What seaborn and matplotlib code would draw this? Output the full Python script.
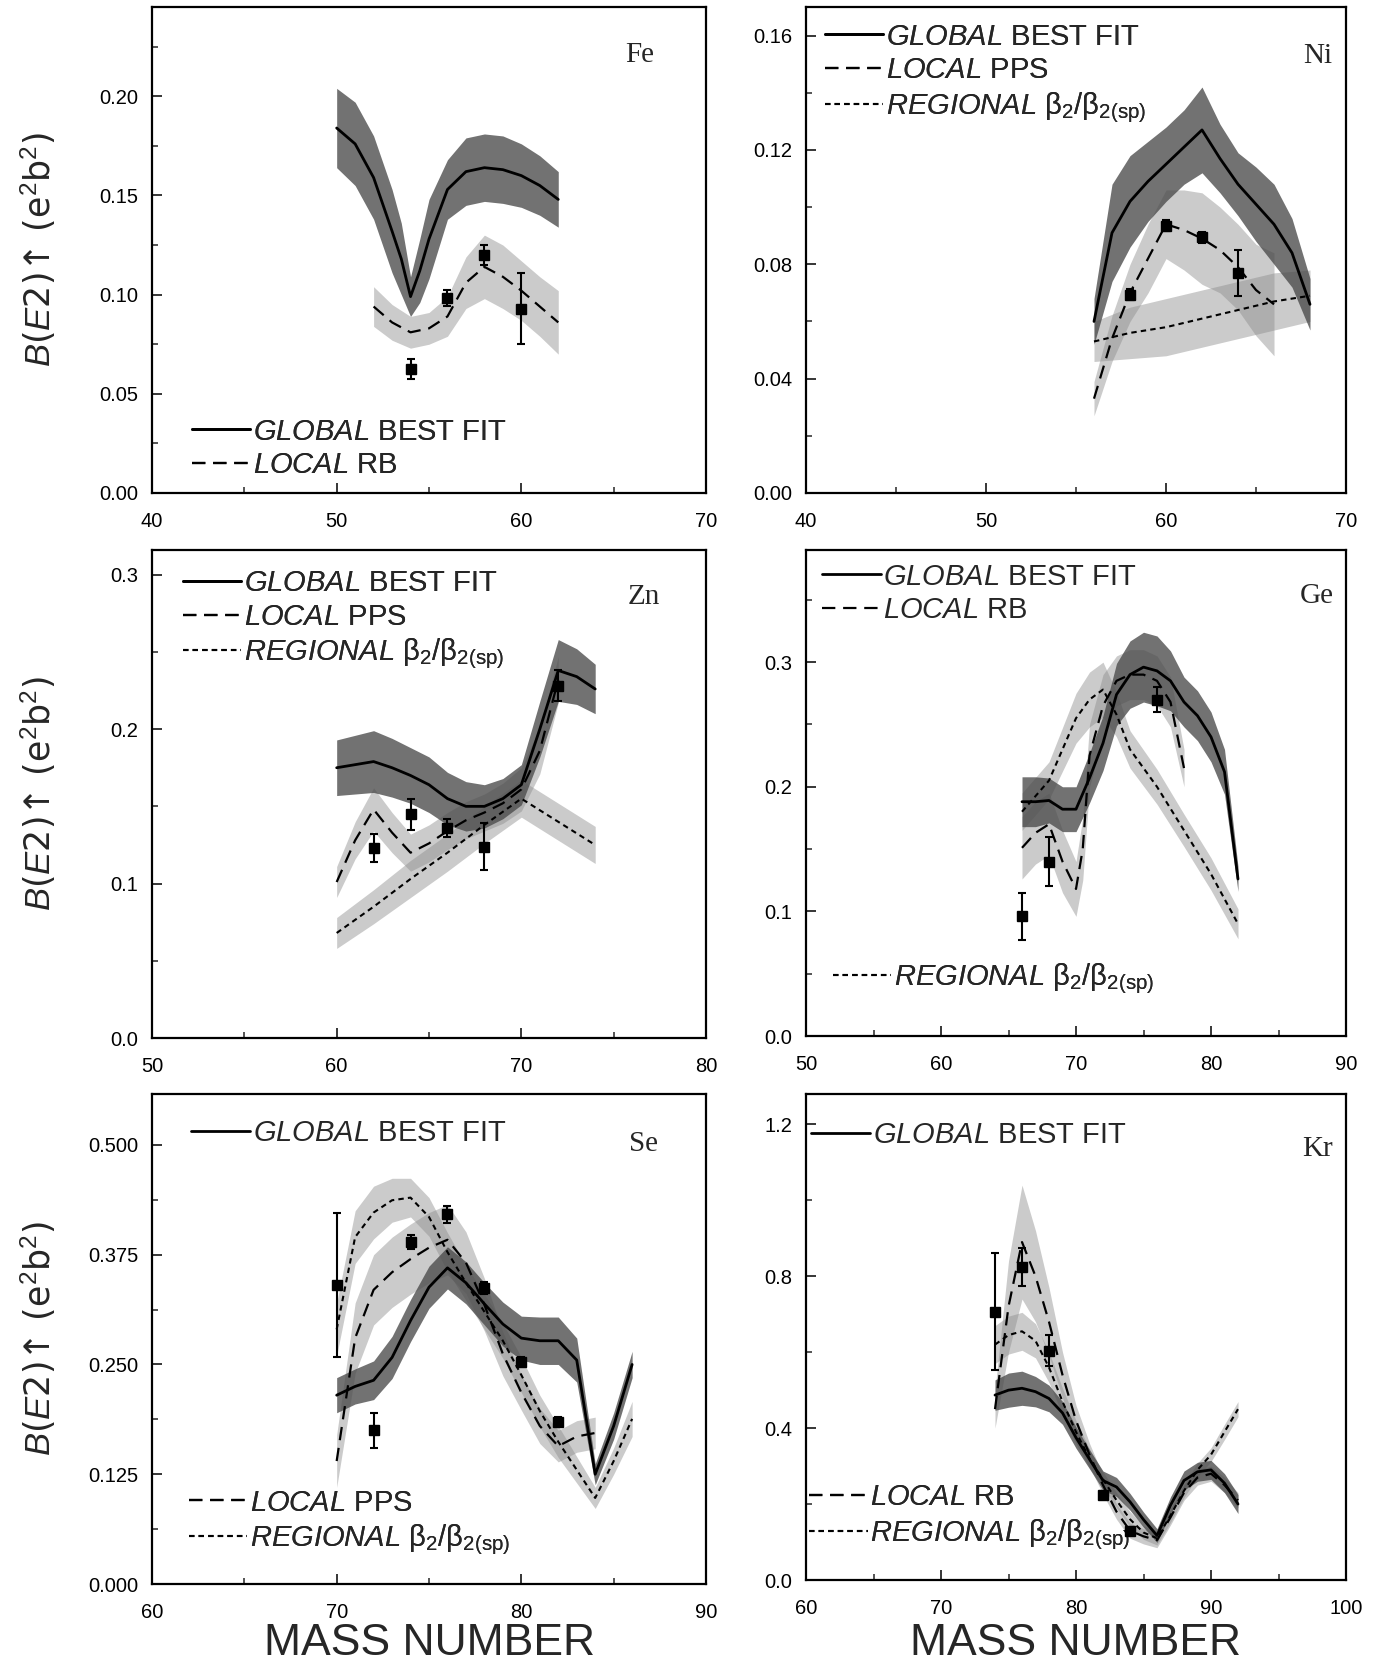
import numpy as np
import pandas as pd
import matplotlib
matplotlib.use("Agg")
import matplotlib.pyplot as plt
import seaborn as sns
from matplotlib.lines import Line2D
from matplotlib.ticker import MultipleLocator, FormatStrFormatter

sns.set_style("ticks")
plt.rcParams['font.family'] = ['Liberation Sans', 'DejaVu Sans']
plt.rcParams['mathtext.fontset'] = 'custom'
plt.rcParams['mathtext.rm'] = 'Liberation Sans'
plt.rcParams['mathtext.it'] = 'Liberation Sans:italic'
plt.rcParams['mathtext.bf'] = 'Liberation Sans:bold'
plt.rcParams['mathtext.sf'] = 'Liberation Sans'

# ---------------- Fe ----------------
fe_gx = [50, 51, 52, 53, 53.5, 54, 54.5, 55, 56, 57, 58, 59, 60, 61, 62]
fe_gy = [0.184, 0.176, 0.159, 0.132, 0.118, 0.099, 0.112, 0.128, 0.153, 0.162, 0.164, 0.163, 0.160, 0.155, 0.148]
fe_gw = [0.020, 0.021, 0.021, 0.021, 0.018, 0.010, 0.016, 0.020, 0.015, 0.017, 0.017, 0.017, 0.016, 0.015, 0.014]
fe_lx = [52, 53, 54, 55, 56, 57, 58, 59, 60, 61, 62]
fe_ly = [0.094, 0.086, 0.081, 0.083, 0.089, 0.106, 0.114, 0.109, 0.102, 0.094, 0.086]
fe_lw = [0.010, 0.009, 0.008, 0.008, 0.010, 0.013, 0.016, 0.016, 0.015, 0.015, 0.016]
fe_dx = [54, 56, 58, 60]
fe_dy = [0.0625, 0.0985, 0.120, 0.093]
fe_de = [0.005, 0.004, 0.005, 0.018]

# ---------------- Ni ----------------
ni_gx = [56, 57, 58, 59, 60, 61, 62, 63, 64, 65, 66, 67, 68]
ni_gy = [0.060, 0.091, 0.102, 0.109, 0.115, 0.121, 0.127, 0.117, 0.108, 0.101, 0.094, 0.084, 0.066]
ni_gw = [0.008, 0.017, 0.016, 0.014, 0.013, 0.013, 0.015, 0.012, 0.011, 0.013, 0.014, 0.012, 0.009]
ni_lx = [56, 57, 58, 59, 60, 61, 62, 63, 64, 65, 66]
ni_ly = [0.033, 0.054, 0.070, 0.082, 0.094, 0.092, 0.089, 0.085, 0.079, 0.071, 0.066]
ni_lw = [0.006, 0.008, 0.010, 0.012, 0.012, 0.014, 0.016, 0.015, 0.015, 0.016, 0.018]
ni_rx = [56, 58, 60, 62, 64, 66, 68]
ni_ry = [0.053, 0.056, 0.058, 0.061, 0.064, 0.067, 0.069]
ni_rw = [0.007, 0.009, 0.010, 0.010, 0.010, 0.010, 0.009]
ni_dx = [58, 60, 62, 64]
ni_dy = [0.0694, 0.0935, 0.0894, 0.077]
ni_de = [0.002, 0.002, 0.002, 0.008]

# ---------------- Zn ----------------
zn_gx = [60, 61, 62, 63, 64, 65, 66, 67, 68, 69, 70, 71, 72, 73, 74]
zn_gy = [0.175, 0.177, 0.179, 0.175, 0.170, 0.164, 0.155, 0.150, 0.150, 0.155, 0.164, 0.200, 0.238, 0.234, 0.226]
zn_gw = [0.018, 0.019, 0.020, 0.019, 0.018, 0.018, 0.017, 0.016, 0.014, 0.013, 0.013, 0.018, 0.020, 0.018, 0.016]
zn_lx = [60, 61, 62, 63, 64, 65, 66, 67, 68, 69, 70, 71, 72]
zn_ly = [0.101, 0.128, 0.148, 0.133, 0.120, 0.126, 0.134, 0.141, 0.146, 0.152, 0.161, 0.186, 0.232]
zn_lw = [0.010, 0.012, 0.014, 0.013, 0.012, 0.012, 0.012, 0.012, 0.012, 0.013, 0.014, 0.015, 0.015]
zn_rx = [60, 62, 64, 66, 68, 70, 72, 74]
zn_ry = [0.068, 0.085, 0.103, 0.120, 0.138, 0.155, 0.140, 0.125]
zn_rw = [0.010, 0.011, 0.012, 0.012, 0.012, 0.012, 0.012, 0.012]
zn_dx = [62, 64, 66, 68, 72]
zn_dy = [0.123, 0.145, 0.136, 0.124, 0.228]
zn_de = [0.009, 0.010, 0.006, 0.015, 0.010]

# ---------------- Ge ----------------
ge_gx = [66, 67, 68, 69, 70, 71, 72, 73, 74, 75, 76, 77, 78, 79, 80, 81, 82]
ge_gy = [0.188, 0.188, 0.189, 0.182, 0.182, 0.207, 0.235, 0.274, 0.290, 0.296, 0.293, 0.285, 0.268, 0.257, 0.240, 0.212, 0.126]
ge_gw = [0.020, 0.020, 0.018, 0.018, 0.018, 0.020, 0.022, 0.025, 0.027, 0.028, 0.028, 0.024, 0.020, 0.020, 0.020, 0.018, 0.010]
ge_lx = [66, 67, 68, 69, 70, 70.5, 71, 72, 73, 74, 75, 76, 77, 78]
ge_ly = [0.151, 0.163, 0.170, 0.140, 0.118, 0.150, 0.225, 0.265, 0.285, 0.290, 0.290, 0.285, 0.268, 0.215]
ge_lw = [0.025, 0.025, 0.025, 0.025, 0.022, 0.025, 0.025, 0.025, 0.020, 0.020, 0.020, 0.020, 0.020, 0.015]
ge_rx = [66, 68, 70, 71, 72, 73, 74, 76, 78, 80, 82]
ge_ry = [0.180, 0.205, 0.255, 0.270, 0.278, 0.258, 0.230, 0.200, 0.165, 0.130, 0.090]
ge_rw = [0.015, 0.015, 0.020, 0.022, 0.022, 0.018, 0.015, 0.014, 0.013, 0.013, 0.012]
ge_dx = [66, 68, 76]
ge_dy = [0.096, 0.140, 0.270]
ge_de = [0.019, 0.020, 0.010]

# ---------------- Se ----------------
se_gx = [70, 71, 72, 73, 74, 75, 76, 77, 78, 79, 80, 81, 82, 83, 84, 85, 86]
se_gy = [0.215, 0.225, 0.232, 0.258, 0.300, 0.338, 0.360, 0.343, 0.319, 0.296, 0.280, 0.277, 0.277, 0.255, 0.125, 0.180, 0.250]
se_gw = [0.020, 0.020, 0.022, 0.024, 0.024, 0.024, 0.024, 0.024, 0.024, 0.025, 0.025, 0.027, 0.027, 0.025, 0.012, 0.015, 0.015]
se_lx = [70, 71, 72, 73, 74, 75, 76, 77, 78, 79, 80, 81, 82, 83, 84]
se_ly = [0.140, 0.280, 0.335, 0.355, 0.370, 0.383, 0.392, 0.366, 0.318, 0.262, 0.218, 0.180, 0.157, 0.168, 0.172]
se_lw = [0.030, 0.040, 0.040, 0.040, 0.040, 0.040, 0.040, 0.035, 0.030, 0.025, 0.020, 0.020, 0.018, 0.018, 0.018]
se_rx = [70, 71, 72, 73, 74, 75, 76, 77, 78, 79, 80, 81, 82, 83, 84, 85, 86]
se_ry = [0.290, 0.395, 0.423, 0.437, 0.440, 0.418, 0.378, 0.343, 0.310, 0.277, 0.238, 0.197, 0.162, 0.130, 0.098, 0.140, 0.188]
se_rw = [0.030, 0.030, 0.030, 0.025, 0.022, 0.022, 0.022, 0.020, 0.020, 0.020, 0.020, 0.018, 0.018, 0.015, 0.012, 0.015, 0.020]
se_dx = [70, 72, 74, 76, 78, 80, 82]
se_dy = [0.341, 0.175, 0.389, 0.421, 0.337, 0.253, 0.185]
se_de = [0.082, 0.020, 0.008, 0.010, 0.007, 0.005, 0.005]

# ---------------- Kr ----------------
kr_gx = [74, 75, 76, 77, 78, 79, 80, 81, 82, 83, 84, 85, 86, 87, 88, 89, 90, 91, 92]
kr_gy = [0.487, 0.500, 0.505, 0.496, 0.478, 0.440, 0.375, 0.318, 0.262, 0.245, 0.206, 0.159, 0.117, 0.197, 0.262, 0.285, 0.290, 0.255, 0.200]
kr_gw = [0.040, 0.045, 0.045, 0.040, 0.035, 0.030, 0.028, 0.025, 0.025, 0.025, 0.022, 0.020, 0.018, 0.022, 0.025, 0.025, 0.025, 0.025, 0.025]
kr_lx = [74, 75, 76, 77, 78, 79, 80, 81, 82, 83, 84, 85, 86, 87, 88, 89, 90, 91, 92]
kr_ly = [0.45, 0.72, 0.89, 0.80, 0.68, 0.54, 0.42, 0.33, 0.25, 0.18, 0.13, 0.115, 0.105, 0.165, 0.23, 0.27, 0.28, 0.25, 0.21]
kr_lw = [0.05, 0.12, 0.15, 0.12, 0.09, 0.06, 0.04, 0.03, 0.025, 0.02, 0.02, 0.02, 0.02, 0.02, 0.02, 0.02, 0.02, 0.02, 0.02]
kr_rx = [74, 75, 76, 77, 78, 79, 80, 81, 82, 83, 84, 85, 86, 87, 88, 89, 90, 91, 92]
kr_ry = [0.62, 0.645, 0.655, 0.63, 0.56, 0.47, 0.39, 0.32, 0.265, 0.21, 0.16, 0.125, 0.11, 0.17, 0.235, 0.29, 0.33, 0.39, 0.45]
kr_rw = [0.05, 0.05, 0.05, 0.045, 0.04, 0.035, 0.03, 0.025, 0.02, 0.02, 0.02, 0.018, 0.018, 0.018, 0.018, 0.018, 0.018, 0.02, 0.02]
kr_dx = [74, 76, 78, 82, 84]
kr_dy = [0.707, 0.824, 0.604, 0.225, 0.130]
kr_de = [0.155, 0.050, 0.040, 0.010, 0.010]

# ---------------- text ----------------
lbl_global = r"$\mathit{GLOBAL}$ BEST FIT"
lbl_pps = r"$\mathit{LOCAL}$ PPS"
lbl_rb = r"$\mathit{LOCAL}$ RB"
lbl_reg = r"$\mathit{REGIONAL}$ $\mathrm{\beta}_2/\mathrm{\beta}_{2(\mathrm{sp})}$"
ylabel_text = r"$\mathit{B}$($\mathit{E}$2)↑ (e$^2$b$^2$)"
xlabel_text = "MASS NUMBER"

# ---------------- styles ----------------
LS = {'g': '-', 'l': (0, (6, 3.5)), 'r': (0, (2.6, 2.0))}
LW = {'g': 2.0, 'l': 1.6, 'r': 1.5}
LBL = {'g': lbl_global, 'l_pps': lbl_pps, 'l_rb': lbl_rb, 'r': lbl_reg}

W, H = 1377, 1668
fig = plt.figure(figsize=(W / 100, H / 100), dpi=100)

def rect(x0, x1, y0, y1):
    return [x0 / W, 1 - y1 / H, (x1 - x0) / W, (y1 - y0) / H]

panels = [
    dict(name='Fe', pos=rect(152, 706, 7, 493), xlim=(40, 70), ylim=(0, 0.245), ymaj=0.05, ymin=0.025, yfmt='%.2f',
         g=(fe_gx, fe_gy, fe_gw), l=(fe_lx, fe_ly, fe_lw), r=None, d=(fe_dx, fe_dy, fe_de),
         name_xy=(0.88, 0.902),
         legs=[(['g', 'l_rb'], 'lower left', (0.072, 0.028))]),
    dict(name='Ni', pos=rect(806, 1346, 7, 493), xlim=(40, 70), ylim=(0, 0.17), ymaj=0.04, ymin=0.02, yfmt='%.2f',
         g=(ni_gx, ni_gy, ni_gw), l=(ni_lx, ni_ly, ni_lw), r=(ni_rx, ni_ry, ni_rw), d=(ni_dx, ni_dy, ni_de),
         name_xy=(0.947, 0.90),
         legs=[(['g', 'l_pps', 'r'], 'upper left', (0.035, 0.968))]),
    dict(name='Zn', pos=rect(152, 706, 550, 1038), xlim=(50, 80), ylim=(0, 0.316), ymaj=0.1, ymin=0.05, yfmt='%.1f',
         g=(zn_gx, zn_gy, zn_gw), l=(zn_lx, zn_ly, zn_lw), r=(zn_rx, zn_ry, zn_rw), d=(zn_dx, zn_dy, zn_de),
         name_xy=(0.888, 0.904),
         legs=[(['g', 'l_pps', 'r'], 'upper left', (0.056, 0.961))]),
    dict(name='Ge', pos=rect(806, 1346, 550, 1036), xlim=(50, 90), ylim=(0, 0.39), ymaj=0.1, ymin=0.05, yfmt='%.1f',
         g=(ge_gx, ge_gy, ge_gw), l=(ge_lx, ge_ly, ge_lw), r=(ge_rx, ge_ry, ge_rw), d=(ge_dx, ge_dy, ge_de),
         name_xy=(0.945, 0.906),
         legs=[(['g', 'l_rb'], 'upper left', (0.03, 0.974)), (['r'], 'lower left', (0.05, 0.083))]),
    dict(name='Se', pos=rect(152, 706, 1094, 1584), xlim=(60, 90), ylim=(0, 0.558), ymaj=0.125, ymin=0.0625, yfmt='%.3f',
         g=(se_gx, se_gy, se_gw), l=(se_lx, se_ly, se_lw), r=(se_rx, se_ry, se_rw), d=(se_dx, se_dy, se_de),
         name_xy=(0.887, 0.898),
         legs=[(['g'], 'upper left', (0.071, 0.948)), (['l_pps', 'r'], 'lower left', (0.067, 0.055))]),
    dict(name='Kr', pos=rect(806, 1346, 1094, 1580), xlim=(60, 100), ylim=(0, 1.28), ymaj=0.4, ymin=0.2, yfmt='%.1f',
         g=(kr_gx, kr_gy, kr_gw), l=(kr_lx, kr_ly, kr_lw), r=(kr_rx, kr_ry, kr_rw), d=(kr_dx, kr_dy, kr_de),
         name_xy=(0.947, 0.886),
         legs=[(['g'], 'upper left', (0.01, 0.945)), (['l_rb', 'r'], 'lower left', (0.006, 0.058))]),
]

LIGHT = '#8c8c8c'
DARK = '#4a4a4a'

def band(ax, spec, color, alpha, z):
    x, y, w = (np.asarray(v, dtype=float) for v in spec)
    ax.fill_between(x, y - w, y + w, color=color, alpha=alpha, lw=0, zorder=z)

def line(ax, spec, key):
    x, y, _ = spec
    df = pd.DataFrame({'A': x, 'B': y})
    sns.lineplot(data=df, x='A', y='B', ax=ax, color='black', lw=LW[key], linestyle=LS[key],
                 errorbar=None, sort=False, zorder=5)

for p in panels:
    ax = fig.add_axes(p['pos'])
    if p['r'] is not None:
        band(ax, p['r'], LIGHT, 0.45, 1)
    band(ax, p['l'], LIGHT, 0.45, 1)
    band(ax, p['g'], DARK, 0.78, 2)
    if p['r'] is not None:
        line(ax, p['r'], 'r')
    line(ax, p['l'], 'l')
    line(ax, p['g'], 'g')
    dx, dy, de = p['d']
    ax.errorbar(dx, dy, yerr=de, fmt='s', color='black', ms=6.5, elinewidth=1.5, capsize=3, capthick=1.5, zorder=6)

    ax.set_xlim(*p['xlim'])
    ax.set_ylim(*p['ylim'])
    ax.set_xlabel('')
    ax.set_ylabel('')
    ax.xaxis.set_major_locator(MultipleLocator(10))
    ax.xaxis.set_minor_locator(MultipleLocator(5))
    ax.yaxis.set_major_locator(MultipleLocator(p['ymaj']))
    ax.yaxis.set_minor_locator(MultipleLocator(p['ymin']))
    ax.yaxis.set_major_formatter(FormatStrFormatter(p['yfmt']))
    ax.tick_params(which='major', direction='in', length=7, width=1.3, labelsize=14.5, labelcolor='black')
    ax.tick_params(axis='x', which='major', pad=14)
    ax.tick_params(axis='y', which='major', pad=10)
    ax.tick_params(which='minor', direction='in', length=4, width=1.1)
    for s in ax.spines.values():
        s.set_linewidth(1.6)
        s.set_color('black')

    ax.text(p['name_xy'][0], p['name_xy'][1], p['name'], transform=ax.transAxes, ha='center', va='center',
            fontsize=21, family=['Liberation Serif', 'DejaVu Serif'])

    for keys, loc, anchor in p['legs']:
        handles, labels = [], []
        for k in keys:
            kk = k[0]
            handles.append(Line2D([], [], color='black', lw=LW[kk], linestyle=LS[kk]))
            labels.append(LBL[k])
        leg = ax.legend(handles, labels, loc=loc, bbox_to_anchor=anchor, frameon=False, fontsize=21,
                        handlelength=2.0, handletextpad=0.1, labelspacing=0.2, borderpad=0, borderaxespad=0)
        ax.add_artist(leg)

for row in range(3):
    pos = panels[row * 2]['pos']
    fig.text(0.028, pos[1] + pos[3] / 2, ylabel_text, rotation=90, ha='center', va='center', fontsize=25,
             family=['DejaVu Sans'])

for col in (4, 5):
    pos = panels[col]['pos']
    fig.text(pos[0] + pos[2] / 2, 0.0075, xlabel_text, ha='center', va='baseline', fontsize=32)

fig.savefig('out.png', dpi=100)
